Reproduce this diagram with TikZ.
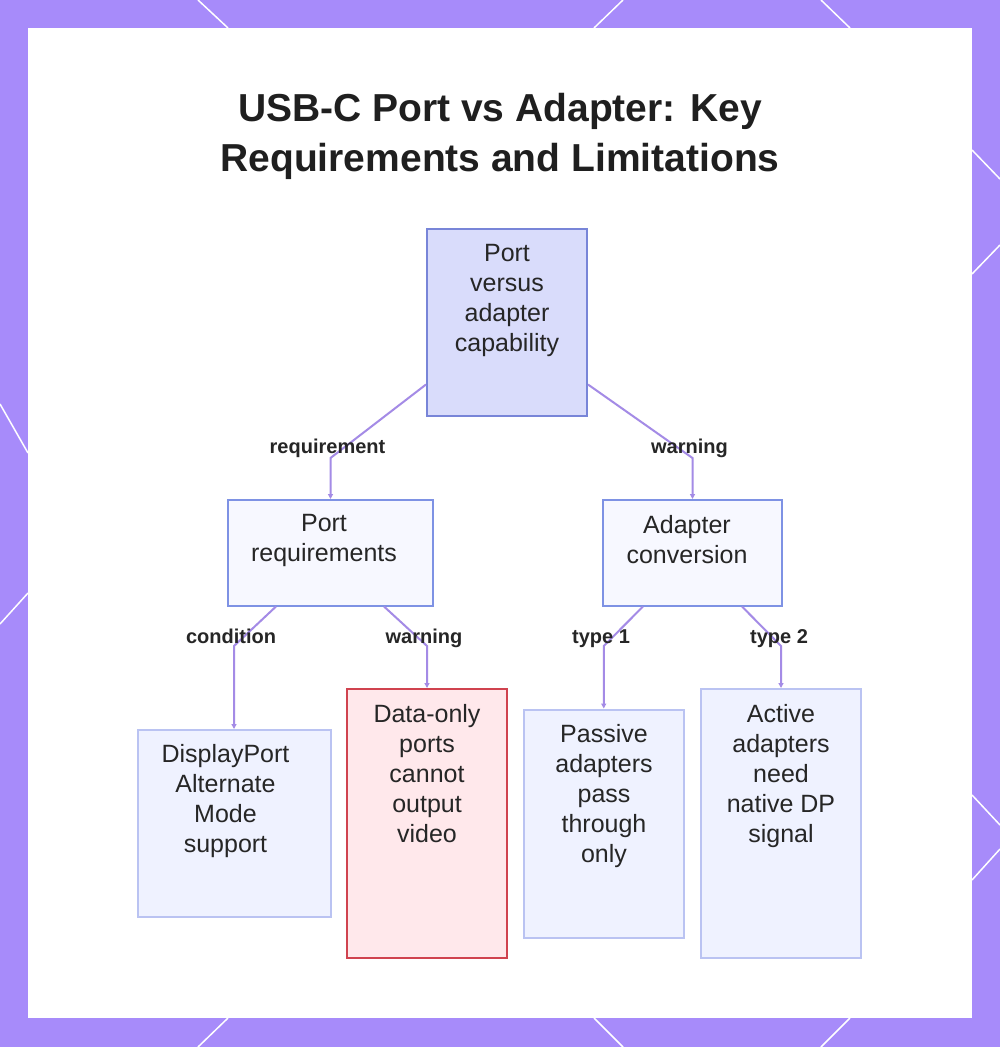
\documentclass[tikz,border=0pt]{standalone}
\usepackage{fontspec}
\setmainfont{Liberation Sans}
\usetikzlibrary{arrows.meta,calc}
\definecolor{framec}{HTML}{A78BFA}
\definecolor{edgec}{HTML}{A48BE6}
\definecolor{rootfill}{HTML}{D9DCFB}
\definecolor{rootdraw}{HTML}{7885D8}
\definecolor{midfill}{HTML}{F7F8FF}
\definecolor{middraw}{HTML}{7E92E4}
\definecolor{leaffill}{HTML}{EFF2FF}
\definecolor{leafdraw}{HTML}{BAC3F2}
\definecolor{warnfill}{HTML}{FFE8EB}
\definecolor{warndraw}{HTML}{D0434F}
\definecolor{txtc}{HTML}{262626}
\begin{document}
\begin{tikzpicture}[x=1pt,y=-1pt,
  boxbase/.style={draw, line width=2pt, inner sep=0pt, rectangle},
  rootbox/.style={boxbase, fill=rootfill, draw=rootdraw},
  midbox/.style={boxbase, fill=midfill, draw=middraw},
  leafbox/.style={boxbase, fill=leaffill, draw=leafdraw},
  warnbox/.style={boxbase, fill=warnfill, draw=warndraw},
  boxtext/.style={anchor=north, inner sep=0pt, align=center, text=txtc, font=\fontsize{25}{30}\selectfont},
  elabel/.style={anchor=base, inner sep=0pt, text=txtc, font=\bfseries\fontsize{20}{24}\selectfont},
  edge/.style={draw=edgec, line width=2pt, -{Triangle[length=5pt,width=5pt]}},
  borderline/.style={draw=white, line width=1.5pt}
]
\useasboundingbox (0,0) rectangle (1000,1047);
\fill[framec] (0,0) rectangle (1000,1047);
% white diagonal lines on the frame
\draw[borderline] (198,0) -- (228,28);
\draw[borderline] (623,0) -- (594,28);
\draw[borderline] (821,0) -- (850,28);
\draw[borderline] (228,1018) -- (198,1047);
\draw[borderline] (594,1018) -- (623,1047);
\draw[borderline] (850,1018) -- (821,1047);
\draw[borderline] (0,404) -- (28,453);
\draw[borderline] (28,593) -- (0,624);
\draw[borderline] (972,150) -- (1000,179);
\draw[borderline] (972,274) -- (1000,245);
\draw[borderline] (972,795) -- (1000,825);
\draw[borderline] (972,880) -- (1000,849);
\fill[white] (28,28) rectangle (972,1018);

% title
\node[anchor=north, inner sep=0pt, align=center, text=black!88, font=\bfseries\fontsize{39}{50}\selectfont] (title) at (500,93) {USB-C Port vs Adapter: Key\\Requirements and Limitations};

% boxes
\node[rootbox, minimum width=160pt, minimum height=187pt] (root) at (507,322.5) {};
\node[midbox, minimum width=205pt, minimum height=105.5pt] (pr) at (330.5,552.75) {};
\node[midbox, minimum width=179pt, minimum height=105.5pt] (ac) at (692.5,552.75) {};
\node[leafbox, minimum width=193pt, minimum height=187pt] (dp) at (234,823.5) {};
\node[warnbox, minimum width=160pt, minimum height=269pt] (dv) at (427,823.5) {};
\node[leafbox, minimum width=160.5pt, minimum height=228pt] (pa) at (603.75,823.5) {};
\node[leafbox, minimum width=160pt, minimum height=268.5pt] (ap) at (781,823.25) {};

% bends
\coordinate (c1) at (330.5,458);
\coordinate (c2) at (692.5,458);
\coordinate (c3) at (234,646);
\coordinate (c4) at (427,646);
\coordinate (c5) at (603.75,646);
\coordinate (c6) at (781,646);

% edges
\draw[edge] ($(root.west)+(0,62)$) -- (c1) -- (pr.north);
\draw[edge] ($(root.east)+(0,62)$) -- (c2) -- (ac.north);
\draw[edge] ($(pr.south)+(-54.5,0)$) -- (c3) -- (dp.north);
\draw[edge] ($(pr.south)+(53.5,0)$) -- (c4) -- (dv.north);
\draw[edge] ($(ac.south)+(-49.5,0)$) -- (c5) -- (pa.north);
\draw[edge] ($(ac.south)+(49.5,0)$) -- (c6) -- (ap.north);

% box texts
\node[boxtext] (troot) at (507,244) {Port\\versus\\adapter\\capability};
\node[boxtext] (tpr) at (324,514) {Port\\requirements};
\node[boxtext] (tac) at (687,515) {Adapter\\conversion};
\node[boxtext] (tdp) at (225.5,744) {DisplayPort\\Alternate\\Mode\\support};
\node[boxtext] (tdv) at (427,704) {Data-only\\ports\\cannot\\output\\video};
\node[boxtext] (tpa) at (604,724) {Passive\\adapters\\pass\\through\\only};
\node[boxtext] (tap) at (781,704) {Active\\adapters\\need\\native DP\\signal};

% edge labels
\node[elabel] (l1) at (327.5,453) {requirement};
\node[elabel] (l2) at (689.5,453) {warning};
\node[elabel] (l3) at (231,643) {condition};
\node[elabel] (l4) at (424,643) {warning};
\node[elabel] (l5) at (601,643) {type 1};
\node[elabel] (l6) at (779,643) {type 2};
\end{tikzpicture}
\end{document}
